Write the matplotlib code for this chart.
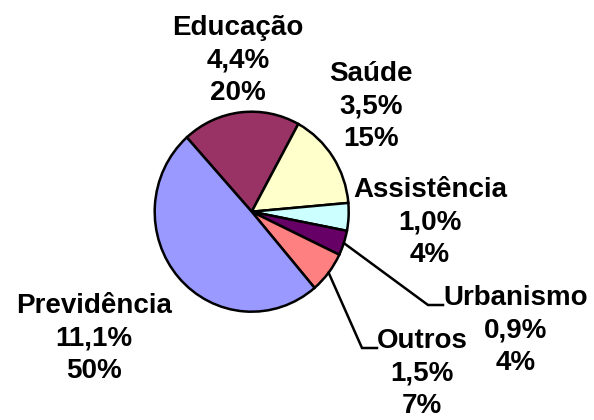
import matplotlib
matplotlib.use("Agg")
import matplotlib.pyplot as plt
import numpy as np

# Data (clockwise from the Previdência/Educação boundary)
categories = ["Educação", "Saúde", "Assistência", "Urbanismo", "Outros", "Previdência"]
values = [4.4, 3.5, 1.0, 0.9, 1.5, 11.1]          # % do PIB
shares = ["20%", "15%", "4%", "4%", "7%", "50%"]
colors = ["#993366", "#FFFFCC", "#CCFFFF", "#660066", "#FF8080", "#9999FF"]

W, H = 594, 420
CX, CY, RX, RY = 251.7, 211.7, 97.0, 100.0

fig = plt.figure(figsize=(W / 100, H / 100), dpi=100)
ax = fig.add_axes([0, 0, 1, 1])
wedges, _ = ax.pie(values, colors=colors, startangle=132, counterclock=False,
                   wedgeprops=dict(edgecolor="black", linewidth=1.8))
ax.set_aspect("auto")
ax.set_xlim(-CX / RX, (W - CX) / RX)
ax.set_ylim((CY - H) / RY, CY / RY)
ax.axis("off")


def px(x, y):
    return (x - CX) / RX, (CY - y) / RY


# label layout: centre x and first baseline (pixels)
label_pos = {
    "Educação": (238, 35),
    "Saúde": (371, 81),
    "Assistência": (430, 197),
    "Urbanismo": (516, 305),
    "Outros": (422, 348),
    "Previdência": (94, 313),
}
LINE = 32.5
# leader lines: elbow and end points (pixels)
leaders = {
    "Urbanismo": ((428, 305), (443, 305)),
    "Outros": ((362, 348), (377, 348)),
}

for w, cat, v, s in zip(wedges, categories, values, shares):
    lines = [cat, f"{v:.1f}".replace(".", ",") + "%", s]
    lx, ly = label_pos[cat]
    for i, line in enumerate(lines):
        x, y = px(lx, ly + i * LINE)
        ax.text(x, y, line, ha="center", va="baseline",
                fontsize=20, fontweight="bold", family="Liberation Sans",
                color="black")
    if cat in leaders:
        mid = np.deg2rad((w.theta1 + w.theta2) / 2)
        x0, y0 = np.cos(mid), np.sin(mid)
        (ex, ey), (tx, ty) = leaders[cat]
        x1, y1 = px(ex, ey)
        x2, y2 = px(tx, ty)
        ax.plot([x0, x1, x2], [y0, y1, y2], color="black", lw=1.8,
                solid_joinstyle="miter")

fig.savefig("out.png", dpi=100)
